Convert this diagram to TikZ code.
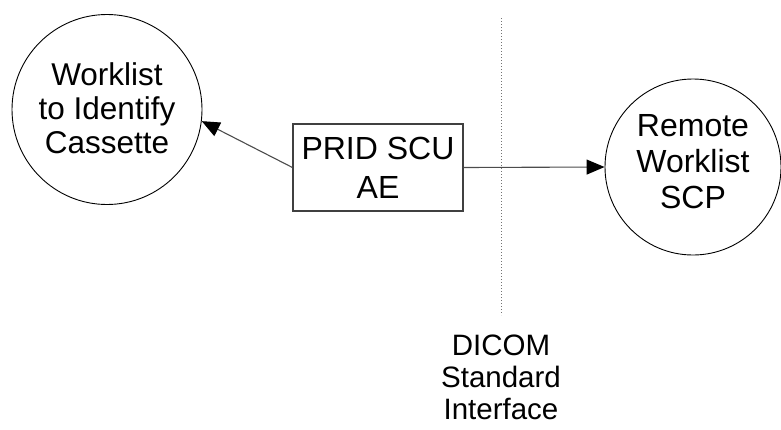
\documentclass[tikz,border=0pt]{standalone}
\usepackage{fontspec}
\setmainfont{Liberation Sans}
\usetikzlibrary{arrows.meta}
\begin{document}
\begin{tikzpicture}[x=1pt,y=-1pt,
  every node/.style={align=center, inner sep=0pt},
  bubble/.style={draw, circle, line width=0.9pt},
  aebox/.style={draw, rectangle, line width=1.1pt, color=black!75, text=black},
  arr/.style={draw=black!70, line width=1.1pt, -{Triangle[length=18pt,width=15pt,fill=black,color=black]}},
  divider/.style={draw=black!55, line width=1pt, dash pattern=on 1.2pt off 1.8pt}]
\useasboundingbox (0,0) rectangle (781,429);
\node[bubble, minimum size=190pt] (lc) at (107,109.5) {};
\node[font=\fontsize{31.5}{34}\selectfont] (lct) at (107,108) {Worklist\\to Identify\\Cassette};
\node[bubble, minimum size=176pt] (rc) at (693,167) {};
\node[font=\fontsize{32}{36}\selectfont] (rct) at (693,161.5) {Remote\\Worklist\\SCP};
\node[aebox, minimum width=170pt, minimum height=87pt] (ae) at (378,167.5) {};
\node[font=\fontsize{32}{39}\selectfont] (aet) at (378,167.5) {PRID SCU\\AE};
\coordinate (dtop) at (501,18);
\coordinate (dbot) at (501,315);
\draw[divider] (dtop) -- (dbot);
\node[font=\fontsize{29.5}{32}\selectfont] (dicom) at (501,377.5) {DICOM\\Standard\\Interface};
\draw[arr] (ae.west) -- (lc.-7);
\draw[arr] (ae.east) -- (rc.west);
\end{tikzpicture}
\end{document}
